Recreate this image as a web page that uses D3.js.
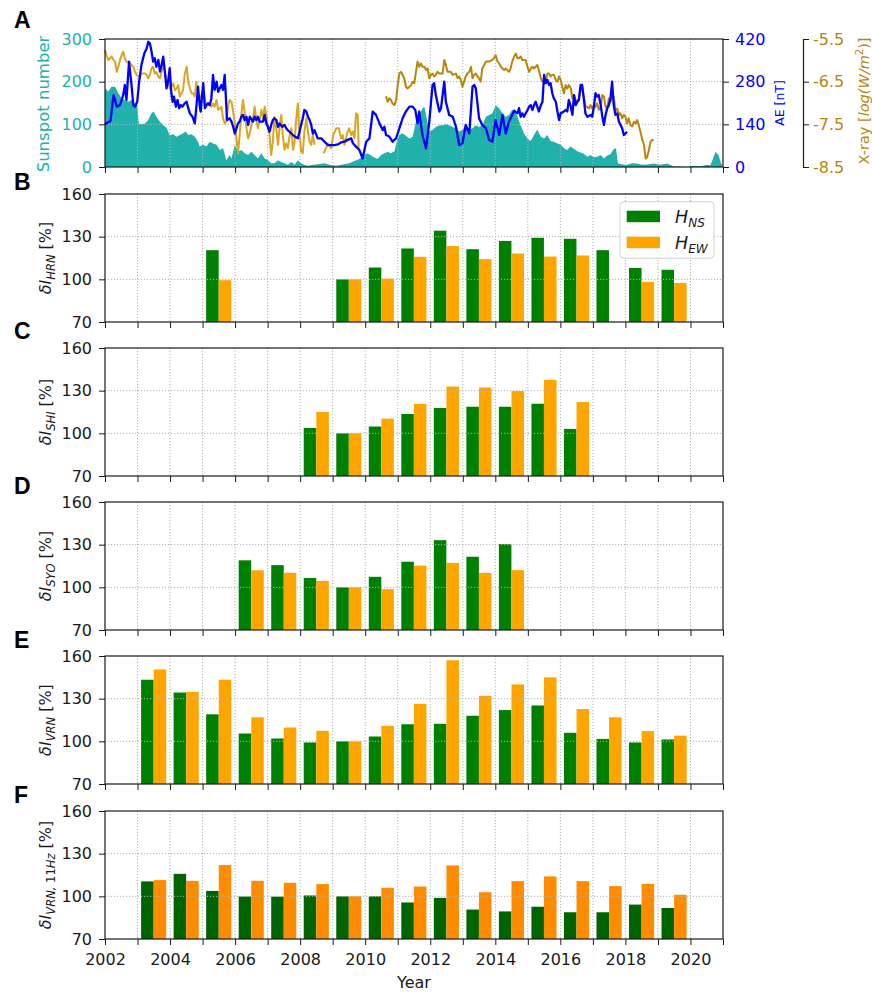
<!DOCTYPE html>
<html lang="en">
<head>
<meta charset="UTF-8" />
<title>Solar activity and ULF intensity</title>
<script src="https://d3js.org/d3.v7.min.js"></script>
<style>
  body { margin: 0; background: #fff; }
  svg { display: block; font-family: "DejaVu Sans", sans-serif; }
</style>
</head>
<body>
<svg id="chart" width="872" height="993"></svg>
<script>
// ---- data -------------------------------------------------------------
const xTickYears = [2002,2003,2004,2005,2006,2007,2008,2009,2010,2011,2012,2013,2014,2015,2016,2017,2018,2019,2020,2021];
const xTickLabels = [2002,2004,2006,2008,2010,2012,2014,2016,2018,2020];
const barYears = [2003,2004,2005,2006,2007,2008,2009,2010,2011,2012,2013,2014,2015,2016,2017,2018,2019];

const hrnNS = [null,null,120.5,null,null,null,100,108.3,121.7,134.2,121.2,127,129.2,128.5,120.5,108,106.7];
const hrnEW = [null,null,99.4,null,null,null,100,100.5,115.8,123.4,114.2,118.2,116,116.8,null,98.2,97.5];
const shiNS = [null,null,null,null,null,103.8,100,104.8,113.6,117.8,118.7,118.7,120.8,103.1,null,null,null];
const shiEW = [null,null,null,null,null,115,100,110.3,120.6,132.9,132.2,129.7,137.6,122,null,null,null];
const syoNS = [null,null,null,119,115.6,106.6,100,107.4,118,133.2,121.5,130.4,null,null,null,null,null];
const syoEW = [null,null,null,112,110.2,104.5,100,98.7,115.3,117.2,110.2,112.1,null,null,null,null,null];
const vrnNS = [143.3,134.3,119,105.5,102,99.2,100,103.4,112,112.3,118,122,125.2,106,101.7,99.2,101.3];
const vrnEW = [150.5,134.7,143.3,116.9,109.7,107.4,100,110.9,126.4,157,132,140,145,122.7,116.9,107.2,104];
const vrn11NS = [110.5,115.8,103.8,99.9,99.8,100.6,100,100,95.7,98.9,90.7,89.4,92.7,88.8,88.8,94.2,91.8];
const vrn11EW = [111.4,110.9,122,110.9,109.5,108.6,100,106,106.9,121.7,102.9,110.7,114,110.7,107.2,108.8,101.1];

const barTicks = [70,100,130,160];
const sunTicks = [0,100,200,300];
const aeTicks = [0,140,280,420];
const xrayTicks = [-8.5,-7.5,-6.5,-5.5];

// [year, sunspot number]
const sunspot = [[2002.00,184],[2002.10,177],[2002.20,188],[2002.31,188],[2002.41,173],[2002.51,161],[2002.61,157],[2002.72,153],[2002.82,157],[2002.92,149],[2002.99,145],[2003.04,102],[2003.12,100],[2003.23,102],[2003.33,110],[2003.43,126],[2003.50,130],[2003.58,118],[2003.69,106],[2003.79,98],[2003.89,92],[2003.99,75],[2004.10,77],[2004.20,71],[2004.30,75],[2004.40,79],[2004.48,83],[2004.56,75],[2004.66,77],[2004.76,71],[2004.86,59],[2004.91,48],[2005.02,52],[2005.12,48],[2005.22,59],[2005.32,55],[2005.43,52],[2005.53,40],[2005.63,44],[2005.73,16],[2005.83,28],[2005.89,20],[2005.99,52],[2006.09,36],[2006.19,40],[2006.29,32],[2006.40,28],[2006.50,36],[2006.60,28],[2006.70,20],[2006.81,32],[2006.91,20],[2007.01,16],[2007.11,9],[2007.21,9],[2007.32,16],[2007.42,12],[2007.52,9],[2007.62,5],[2007.73,12],[2007.83,5],[2007.93,16],[2008.03,9],[2008.13,5],[2008.24,3],[2008.39,5],[2008.49,6],[2008.75,9],[2008.90,5],[2009.11,3],[2009.31,6],[2009.51,9],[2009.67,14],[2009.82,19],[2009.98,28],[2010.08,32],[2010.18,27],[2010.28,22],[2010.38,19],[2010.49,28],[2010.59,32],[2010.69,36],[2010.79,32],[2010.90,37],[2010.97,59],[2011.05,75],[2011.15,79],[2011.25,73],[2011.36,67],[2011.46,71],[2011.56,106],[2011.66,122],[2011.76,137],[2011.82,141],[2011.89,114],[2011.97,83],[2012.07,87],[2012.17,94],[2012.28,98],[2012.38,98],[2012.48,100],[2012.58,98],[2012.69,94],[2012.79,91],[2012.89,83],[2012.99,87],[2013.09,98],[2013.20,87],[2013.30,91],[2013.40,98],[2013.50,94],[2013.60,98],[2013.71,118],[2013.81,122],[2013.91,126],[2014.01,145],[2014.12,137],[2014.22,126],[2014.32,118],[2014.42,122],[2014.52,134],[2014.63,126],[2014.68,118],[2014.78,98],[2014.88,79],[2014.99,66],[2015.09,61],[2015.19,75],[2015.29,88],[2015.40,71],[2015.50,67],[2015.60,75],[2015.70,61],[2015.80,59],[2015.91,55],[2016.01,52],[2016.11,44],[2016.21,40],[2016.31,48],[2016.42,42],[2016.52,37],[2016.62,34],[2016.72,31],[2016.83,24],[2016.93,28],[2017.03,23],[2017.13,24],[2017.24,28],[2017.34,20],[2017.44,27],[2017.54,30],[2017.64,42],[2017.71,44],[2017.77,9],[2017.90,6],[2018.05,5],[2018.21,9],[2018.36,8],[2018.51,5],[2018.67,6],[2018.87,8],[2019.08,5],[2019.28,8],[2019.49,1],[2019.69,1],[2019.89,0],[2020.10,3],[2020.30,2],[2020.51,5],[2020.61,4],[2020.69,19],[2020.77,36],[2020.86,28],[2020.94,9],[2020.97,6]];

// [year, AE index in nT]
const aeIndex = [[2002.00,140],[2002.10,147],[2002.17,151],[2002.26,236],[2002.31,220],[2002.36,198],[2002.46,203],[2002.56,236],[2002.61,269],[2002.66,220],[2002.74,346],[2002.82,264],[2002.87,203],[2002.92,198],[2002.99,214],[2003.05,280],[2003.12,335],[2003.21,373],[2003.28,389],[2003.33,411],[2003.38,406],[2003.43,379],[2003.48,346],[2003.53,357],[2003.58,329],[2003.64,351],[2003.69,313],[2003.74,335],[2003.79,362],[2003.84,313],[2003.89,258],[2003.94,280],[2003.99,324],[2004.04,242],[2004.08,214],[2004.12,231],[2004.18,198],[2004.23,220],[2004.28,193],[2004.33,203],[2004.38,198],[2004.45,209],[2004.51,214],[2004.56,193],[2004.61,176],[2004.69,165],[2004.76,143],[2004.81,198],[2004.86,264],[2004.91,203],[2004.94,182],[2005.02,275],[2005.07,193],[2005.12,203],[2005.17,209],[2005.22,203],[2005.27,225],[2005.32,302],[2005.37,253],[2005.43,280],[2005.48,247],[2005.53,258],[2005.58,269],[2005.63,253],[2005.68,302],[2005.71,242],[2005.75,154],[2005.83,160],[2005.89,149],[2005.94,132],[2005.99,110],[2006.04,127],[2006.09,143],[2006.14,149],[2006.19,165],[2006.24,171],[2006.29,154],[2006.35,165],[2006.40,138],[2006.45,165],[2006.55,149],[2006.60,165],[2006.65,154],[2006.70,165],[2006.75,149],[2006.86,149],[2006.91,171],[2006.96,143],[2007.01,132],[2007.06,116],[2007.11,138],[2007.16,154],[2007.21,160],[2007.27,154],[2007.32,132],[2007.37,143],[2007.45,132],[2007.52,138],[2007.57,127],[2007.62,121],[2007.73,110],[2007.83,100],[2007.93,94],[2007.98,116],[2008.08,160],[2008.13,187],[2008.19,182],[2008.24,165],[2008.29,154],[2008.34,138],[2008.39,110],[2008.44,121],[2008.54,94],[2008.65,94],[2008.75,83],[2008.85,72],[2008.95,72],[2009.05,72],[2009.16,74],[2009.26,81],[2009.36,83],[2009.46,89],[2009.57,94],[2009.62,78],[2009.72,67],[2009.82,56],[2009.92,28],[2010.03,83],[2010.13,94],[2010.23,182],[2010.33,171],[2010.44,143],[2010.54,121],[2010.59,132],[2010.64,105],[2010.74,100],[2010.84,83],[2010.95,94],[2011.05,127],[2011.15,160],[2011.25,182],[2011.36,198],[2011.46,198],[2011.54,187],[2011.61,143],[2011.66,182],[2011.76,105],[2011.87,61],[2011.97,149],[2012.07,269],[2012.12,275],[2012.17,236],[2012.28,182],[2012.33,193],[2012.38,236],[2012.43,280],[2012.48,214],[2012.58,171],[2012.69,165],[2012.79,132],[2012.89,72],[2012.99,78],[2013.09,138],[2013.20,110],[2013.30,264],[2013.35,269],[2013.40,258],[2013.50,160],[2013.60,138],[2013.71,127],[2013.81,89],[2013.91,83],[2014.01,154],[2014.12,105],[2014.17,138],[2014.22,171],[2014.32,110],[2014.42,149],[2014.47,160],[2014.58,185],[2014.68,176],[2014.73,193],[2014.78,165],[2014.83,176],[2014.88,165],[2014.99,187],[2015.04,198],[2015.09,203],[2015.14,187],[2015.19,203],[2015.24,214],[2015.29,198],[2015.34,182],[2015.40,203],[2015.45,214],[2015.50,302],[2015.55,275],[2015.60,286],[2015.65,269],[2015.70,275],[2015.75,242],[2015.80,225],[2015.86,214],[2015.91,182],[2015.96,154],[2016.01,176],[2016.11,182],[2016.16,187],[2016.21,182],[2016.26,220],[2016.32,198],[2016.37,171],[2016.42,236],[2016.47,203],[2016.52,214],[2016.57,220],[2016.62,269],[2016.67,269],[2016.72,225],[2016.77,176],[2016.83,165],[2016.93,171],[2016.98,165],[2017.03,198],[2017.08,242],[2017.13,231],[2017.18,236],[2017.24,203],[2017.29,165],[2017.34,138],[2017.39,171],[2017.44,193],[2017.49,203],[2017.54,225],[2017.59,280],[2017.64,203],[2017.69,171],[2017.75,176],[2017.80,149],[2017.85,138],[2017.90,127],[2017.95,105],[2018.00,110],[2018.05,116]];

// [year, log10 X-ray flux], first instrument (gap = null)
const xrayEarly = [[2002.00,-5.76],[2002.05,-5.88],[2002.10,-5.99],[2002.15,-5.95],[2002.20,-5.91],[2002.26,-5.99],[2002.31,-6.03],[2002.36,-6.27],[2002.41,-6.15],[2002.46,-5.99],[2002.51,-5.88],[2002.56,-5.80],[2002.61,-5.95],[2002.66,-6.03],[2002.77,-6.07],[2002.87,-6.15],[2002.92,-6.27],[2002.97,-6.34],[2003.02,-6.38],[2003.07,-6.38],[2003.12,-6.31],[2003.18,-6.31],[2003.23,-6.31],[2003.28,-6.34],[2003.33,-6.42],[2003.38,-6.34],[2003.43,-6.19],[2003.48,-6.15],[2003.53,-6.31],[2003.58,-6.27],[2003.64,-6.38],[2003.69,-6.42],[2003.74,-6.27],[2003.79,-6.07],[2003.84,-6.27],[2003.89,-6.42],[2003.94,-6.50],[2003.99,-6.66],[2004.04,-6.62],[2004.10,-6.54],[2004.15,-6.70],[2004.20,-6.66],[2004.25,-6.58],[2004.30,-6.85],[2004.35,-6.77],[2004.40,-6.70],[2004.45,-6.34],[2004.51,-6.15],[2004.56,-6.50],[2004.61,-6.66],[2004.66,-6.77],[2004.71,-6.77],[2004.76,-6.85],[2004.81,-6.50],[2004.86,-6.81],[2004.91,-6.89],[2004.97,-6.81],[2005.02,-6.70],[2005.07,-6.93],[2005.12,-7.05],[2005.17,-7.01],[2005.22,-7.05],[2005.27,-7.09],[2005.32,-7.01],[2005.37,-7.09],[2005.43,-6.93],[2005.48,-7.16],[2005.53,-7.13],[2005.58,-7.09],[2005.63,-7.36],[2005.68,-7.48],[2005.73,-7.44],[2005.78,-7.09],[2005.83,-6.93],[2005.89,-6.97],[2005.94,-7.20],[2005.99,-7.48],[2006.04,-7.83],[2006.09,-8.18],[2006.14,-7.75],[2006.19,-7.28],[2006.24,-6.93],[2006.29,-7.20],[2006.35,-7.59],[2006.40,-7.83],[2006.45,-7.71],[2006.50,-7.52],[2006.55,-7.36],[2006.60,-7.09],[2006.65,-7.36],[2006.70,-7.59],[2006.75,-7.44],[2006.81,-7.16],[2006.86,-7.36],[2006.91,-7.09],[2006.96,-7.28],[2007.01,-7.59],[2007.06,-7.75],[2007.11,-8.22],[2007.16,-7.91],[2007.21,-7.32],[2007.27,-7.63],[2007.32,-7.98],[2007.37,-7.55],[2007.42,-7.28],[2007.47,-7.79],[2007.52,-8.10],[2007.57,-7.95],[2007.62,-8.06],[2007.68,-7.75],[2007.73,-7.59],[2007.78,-8.10],[2007.83,-7.91],[2007.88,-7.36],[2007.93,-7.01],[2007.98,-7.71],[2008.03,-8.14],[2008.08,-8.18],[2008.13,-7.67],[2008.19,-7.36],[2008.24,-7.67],[2008.29,-7.91],[2008.34,-7.98],[2008.39,-7.75],[2008.44,-7.98],[2008.58,null],[2008.72,-8.18],[2008.77,-8.10],[2008.85,-7.95],[2008.95,-8.06],[2009.02,-7.75],[2009.11,-7.59],[2009.19,-7.59],[2009.26,-7.83],[2009.31,-7.75],[2009.36,-7.98],[2009.41,-7.83],[2009.46,-7.67],[2009.51,-7.59],[2009.57,-7.75],[2009.62,-7.67],[2009.67,-7.83],[2009.72,-7.24],[2009.77,-7.28],[2009.80,-8.10]];

// second instrument
const xrayLate = [[2010.64,-6.84],[2010.69,-6.97],[2010.74,-6.89],[2010.79,-6.93],[2010.84,-7.01],[2010.90,-7.05],[2010.95,-6.93],[2011.00,-6.58],[2011.05,-6.31],[2011.10,-6.27],[2011.15,-6.34],[2011.20,-6.42],[2011.25,-6.62],[2011.30,-6.66],[2011.36,-6.62],[2011.41,-6.58],[2011.46,-6.50],[2011.51,-6.54],[2011.56,-6.27],[2011.61,-6.03],[2011.66,-6.15],[2011.71,-6.07],[2011.76,-6.15],[2011.82,-6.15],[2011.87,-6.23],[2011.92,-6.19],[2011.97,-6.42],[2012.02,-6.34],[2012.07,-6.31],[2012.12,-6.38],[2012.17,-6.34],[2012.22,-6.27],[2012.28,-6.31],[2012.38,-6.31],[2012.43,-5.99],[2012.48,-6.11],[2012.53,-6.27],[2012.58,-6.27],[2012.63,-6.27],[2012.69,-6.34],[2012.79,-6.31],[2012.84,-6.42],[2012.89,-6.38],[2012.94,-6.46],[2012.99,-6.62],[2013.04,-6.50],[2013.09,-6.38],[2013.14,-6.31],[2013.20,-6.27],[2013.25,-6.15],[2013.30,-6.42],[2013.35,-6.34],[2013.40,-6.31],[2013.45,-6.38],[2013.50,-6.42],[2013.55,-6.50],[2013.60,-6.19],[2013.66,-6.11],[2013.71,-6.03],[2013.81,-6.03],[2013.91,-5.99],[2013.96,-5.95],[2014.01,-5.88],[2014.07,-6.03],[2014.12,-6.07],[2014.17,-6.15],[2014.22,-6.19],[2014.27,-6.23],[2014.32,-6.19],[2014.37,-6.23],[2014.42,-6.27],[2014.47,-6.19],[2014.52,-6.03],[2014.58,-5.91],[2014.63,-5.84],[2014.68,-5.95],[2014.73,-5.95],[2014.78,-5.91],[2014.83,-5.99],[2014.88,-5.99],[2014.93,-5.99],[2014.99,-6.15],[2015.04,-6.27],[2015.09,-6.19],[2015.14,-6.15],[2015.19,-6.19],[2015.24,-6.15],[2015.29,-6.11],[2015.34,-6.23],[2015.40,-6.42],[2015.45,-6.50],[2015.50,-6.46],[2015.55,-6.50],[2015.60,-6.31],[2015.65,-6.31],[2015.70,-6.38],[2015.75,-6.34],[2015.80,-6.34],[2015.86,-6.46],[2015.91,-6.50],[2015.96,-6.38],[2016.01,-6.46],[2016.06,-6.62],[2016.11,-6.77],[2016.16,-6.58],[2016.21,-6.66],[2016.26,-6.58],[2016.32,-6.66],[2016.37,-6.89],[2016.42,-6.81],[2016.47,-6.93],[2016.52,-6.97],[2016.57,-6.89],[2016.62,-6.66],[2016.67,-6.70],[2016.72,-6.85],[2016.77,-7.09],[2016.83,-7.09],[2016.88,-7.13],[2016.93,-7.05],[2016.98,-7.13],[2017.03,-7.05],[2017.08,-7.09],[2017.13,-7.01],[2017.18,-7.16],[2017.24,-7.09],[2017.29,-6.81],[2017.34,-6.85],[2017.39,-7.09],[2017.44,-7.13],[2017.49,-6.89],[2017.54,-6.97],[2017.59,-6.85],[2017.64,-6.85],[2017.70,-7.20],[2017.75,-7.13],[2017.80,-7.28],[2017.85,-7.24],[2017.90,-7.36],[2017.95,-7.28],[2018.00,-7.32],[2018.05,-7.48],[2018.10,-7.36],[2018.16,-7.52],[2018.21,-7.55],[2018.26,-7.44],[2018.31,-7.48],[2018.36,-7.40],[2018.41,-7.52],[2018.46,-7.67],[2018.51,-7.83],[2018.57,-7.98],[2018.62,-8.30],[2018.67,-8.26],[2018.72,-8.10],[2018.77,-7.91],[2018.82,-7.87],[2018.87,-7.87]];

// ---- layout -----------------------------------------------------------
const svg = d3.select("#chart");
const ink = "#1a1a1a";
const gridColor = "#b0b0b0";
const panelH = 128;
const x = d3.scaleLinear().domain([2002, 2021]).range([105, 723]);

const panels = [
  { letter: "B", top: 194, ns: hrnNS, ew: hrnEW, sub: "HRN", colors: ["#008000", "#ffa500"], legend: true },
  { letter: "C", top: 348, ns: shiNS, ew: shiEW, sub: "SHI", colors: ["#008000", "#ffa500"] },
  { letter: "D", top: 502, ns: syoNS, ew: syoEW, sub: "SYO", colors: ["#008000", "#ffa500"] },
  { letter: "E", top: 656, ns: vrnNS, ew: vrnEW, sub: "VRN", colors: ["#008000", "#ffa500"] },
  { letter: "F", top: 811, ns: vrn11NS, ew: vrn11EW, sub: "VRN, ", sub2: "11", sub3: "Hz", colors: ["#006400", "#ff8c00"], xLabels: true }
];
const letterBase = { A: 28, B: 190, C: 339, D: 494, E: 648, F: 803 };

function styleTicks(g, color) {
  g.attr("font-family", null).attr("font-size", null);
  g.selectAll(".tick line").attr("stroke", ink).attr("stroke-width", 1);
  g.selectAll(".tick text").attr("fill", color).style("font-size", "16px");
}

function drawGrid(g, y, yTicks) {
  const [y0, y1] = y.range();
  g.append("g").selectAll("line").data(xTickYears.slice(1, -1)).join("line")
    .attr("x1", d => x(d)).attr("x2", d => x(d)).attr("y1", y1).attr("y2", y0);
  g.append("g").selectAll("line").data(yTicks.slice(1, -1)).join("line")
    .attr("x1", x.range()[0]).attr("x2", x.range()[1]).attr("y1", d => y(d)).attr("y2", d => y(d));
  g.selectAll("line").attr("stroke", gridColor).attr("stroke-width", 1).attr("stroke-dasharray", "1.2,1.8");
}

function drawFrame(top) {
  svg.append("rect").attr("x", x.range()[0]).attr("y", top)
    .attr("width", x.range()[1] - x.range()[0]).attr("height", panelH)
    .attr("fill", "none").attr("stroke", ink).attr("stroke-width", 1.2);
}

function xAxis(top, labels) {
  const g = svg.append("g").attr("transform", `translate(0,${top + panelH})`)
    .call(d3.axisBottom(x).tickValues(xTickYears).tickSize(6).tickPadding(9)
      .tickFormat(d => labels && xTickLabels.includes(d) ? String(d) : ""));
  g.select(".domain").remove();
  styleTicks(g, ink);
}

function letter(l) {
  svg.append("text").attr("x", 14).attr("y", letterBase[l])
    .style("font-family", "'Liberation Sans', Arial, sans-serif")
    .style("font-weight", "bold").style("font-size", "23px").attr("fill", "#000").text(l);
}

// ---- panel A ----------------------------------------------------------
const topA = 39;
const ySun = d3.scaleLinear().domain([0, 300]).range([topA + panelH, topA]);
const yAE = d3.scaleLinear().domain([0, 420]).range([topA + panelH, topA]);
const yX = d3.scaleLinear().domain([-8.5, -5.5]).range([topA + panelH, topA]);

svg.append("path").datum(sunspot)
  .attr("d", d3.area().x(d => x(d[0])).y0(ySun(0)).y1(d => ySun(d[1])))
  .attr("fill", "#20b2aa");
drawGrid(svg.append("g"), ySun, sunTicks);

const xrLine = d3.line().defined(d => d[1] !== null).x(d => x(d[0])).y(d => yX(d[1]));
svg.append("path").datum(xrayEarly).attr("d", xrLine)
  .attr("fill", "none").attr("stroke", "#daa520").attr("stroke-width", 2).attr("stroke-linejoin", "round");
svg.append("path").datum(xrayLate).attr("d", xrLine)
  .attr("fill", "none").attr("stroke", "#b8860b").attr("stroke-width", 2).attr("stroke-linejoin", "round");
svg.append("path").datum(aeIndex)
  .attr("d", d3.line().x(d => x(d[0])).y(d => yAE(d[1])))
  .attr("fill", "none").attr("stroke", "#0000ff").attr("stroke-width", 2.3).attr("stroke-linejoin", "round");

drawFrame(topA);
xAxis(topA, false);

const gSun = svg.append("g").attr("transform", `translate(${x.range()[0]},0)`)
  .call(d3.axisLeft(ySun).tickValues(sunTicks).tickSize(6).tickPadding(7));
gSun.select(".domain").remove();
styleTicks(gSun, "#20b2aa");

const gAE = svg.append("g").attr("transform", `translate(${x.range()[1]},0)`)
  .call(d3.axisRight(yAE).tickValues(aeTicks).tickSize(6).tickPadding(6));
gAE.select(".domain").remove();
styleTicks(gAE, "#0000ff");

const gX = svg.append("g").attr("transform", "translate(803,0)")
  .call(d3.axisRight(yX).tickValues(xrayTicks).tickSize(6).tickPadding(4).tickFormat(d => d.toFixed(1)));
gX.select(".domain").attr("stroke", ink).attr("stroke-width", 1.2);
styleTicks(gX, "#b8860b");

svg.append("text").attr("transform", `translate(49,104) rotate(-90)`).attr("text-anchor", "middle")
  .style("font-size", "16.5px").attr("fill", "#20b2aa").text("Sunspot number");
svg.append("text").attr("transform", `translate(784,103) rotate(-90)`).attr("text-anchor", "middle")
  .style("font-size", "12.5px").attr("fill", "#0000ff").text("AE [nT]");
const xl = svg.append("text").attr("transform", `translate(869,101) rotate(-90)`).attr("text-anchor", "middle")
  .style("font-size", "14.5px").attr("fill", "#b8860b");
xl.append("tspan").text("X-ray [");
xl.append("tspan").style("font-style", "italic").text("log(W/m");
xl.append("tspan").style("font-size", "10px").attr("dy", -6).text("2");
xl.append("tspan").attr("dy", 6).text(")]");
letter("A");

// ---- bar panels -------------------------------------------------------
const barW = 0.385;
const barOff = [0.11, 0.497];

panels.forEach(p => {
  const y = d3.scaleLinear().domain([70, 160]).range([p.top + panelH, p.top]);
  const g = svg.append("g");
  [p.ns, p.ew].forEach((vals, k) => {
    g.append("g").selectAll("rect")
      .data(barYears.map((yr, i) => ({ yr, v: vals[i] })).filter(d => d.v !== null))
      .join("rect")
      .attr("x", d => x(d.yr + barOff[k]))
      .attr("width", x(2002 + barW) - x(2002))
      .attr("y", d => y(d.v))
      .attr("height", d => y(70) - y(d.v))
      .attr("fill", p.colors[k]);
  });
  drawGrid(svg.append("g"), y, barTicks);
  drawFrame(p.top);
  xAxis(p.top, p.xLabels);

  const gy = svg.append("g").attr("transform", `translate(${x.range()[0]},0)`)
    .call(d3.axisLeft(y).tickValues(barTicks).tickSize(6).tickPadding(7));
  gy.select(".domain").remove();
  styleTicks(gy, ink);

  const t = svg.append("text").attr("transform", `translate(50.5,${p.top + panelH / 2}) rotate(-90)`)
    .attr("text-anchor", "middle").style("font-size", "16px").attr("fill", ink);
  t.append("tspan").style("font-style", "italic").text("δI");
  t.append("tspan").style("font-style", "italic").style("font-size", "11.5px").attr("dy", 4).text(p.sub);
  if (p.sub2) {
    t.append("tspan").style("font-size", "11.5px").text(p.sub2);
    t.append("tspan").style("font-style", "italic").style("font-size", "11.5px").text(p.sub3);
  }
  t.append("tspan").attr("dy", -4).text(" [%]");
  letter(p.letter);

  if (p.legend) {
    const lg = svg.append("g").attr("transform", `translate(620,${p.top + 7.7})`);
    lg.append("rect").attr("width", 94).attr("height", 56.5).attr("rx", 4)
      .attr("fill", "#fff").attr("fill-opacity", 0.85).attr("stroke", "#d0d0d0");
    const items = [["NS", p.colors[0]], ["EW", p.colors[1]]];
    items.forEach(([s, c], i) => {
      lg.append("rect").attr("x", 6.7).attr("y", 9 + i * 26).attr("width", 33.3).attr("height", 11.5).attr("fill", c);
      const lt = lg.append("text").attr("x", 55).attr("y", 21 + i * 26)
        .style("font-size", "17.5px").style("font-style", "italic").attr("fill", ink);
      lt.append("tspan").text("H");
      lt.append("tspan").style("font-size", "12px").attr("dy", 4).text(s);
    });
  }
});

svg.append("text").attr("x", 414).attr("y", 988).attr("text-anchor", "middle")
  .style("font-size", "16px").attr("fill", ink).text("Year");
</script>
</body>
</html>
